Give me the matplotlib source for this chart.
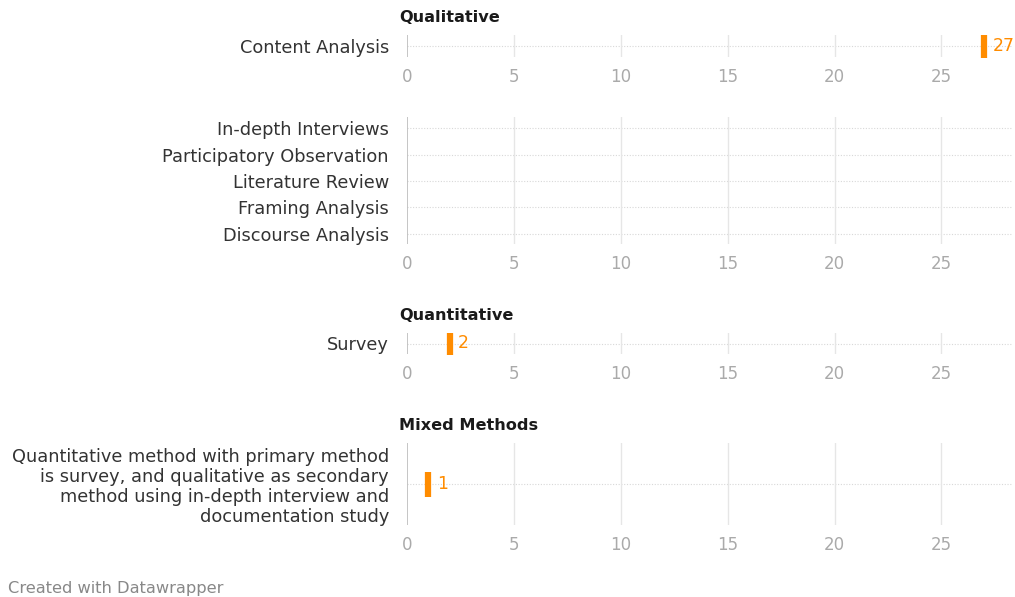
import matplotlib.pyplot as plt

plt.rcParams['font.family'] = ['DejaVu Sans']

# data per group
groups = ["Qualitative", "", "Quantitative", "Mixed Methods"]
labels = [
    ["Content Analysis"],
    ["In-depth Interviews", "Participatory Observation", "Literature Review",
     "Framing Analysis", "Discourse Analysis"],
    ["Survey"],
    ["Quantitative method with primary method\nis survey, and qualitative as secondary\n"
     "method using in-depth interview and\ndocumentation study"],
]
values = [
    [27],
    [None, None, None, None, None],
    [2],
    [1],
]
ticks = [0, 5, 10, 15, 20, 25]

W, H = 1015, 597
# panel boxes in pixels: top, bottom, ylim pad (top, bottom)
boxes = [(35, 57, 0.5, 0.5), (117, 244, 0.42, 0.38), (333, 354, 0.5, 0.5), (443, 525, 0.5, 0.5)]
title_y = [18, None, 315, 426]
x0, x1 = 407, 1012
orange = '#ff8c00'

fig = plt.figure(figsize=(W / 100, H / 100), dpi=100)

for gi, (top, bot, pt, pb) in enumerate(boxes):
    ax = fig.add_axes([x0 / W, 1 - bot / H, (x1 - x0) / W, (bot - top) / H])
    n = len(labels[gi])
    ax.set_xlim(0, 28.3)
    ax.set_ylim(n - 1 + pb, -pt)
    for s in ax.spines.values():
        s.set_visible(False)
    for t in ticks:
        ax.axvline(t, color='#bbbbbb' if t == 0 else '#e6e6e6', lw=1.2 if t == 0 else 1, zorder=1)
    for i in range(n):
        ax.axhline(i, color='#d8d8d8', lw=0.8, ls=(0, (1, 1.5)), zorder=0)
    ax.set_yticks(range(n))
    ax.set_yticklabels(labels[gi], fontsize=12.8, color='#333333', linespacing=1.16)
    ax.tick_params(axis='y', length=0, pad=13)
    ax.set_xticks(ticks)
    ax.set_xticklabels([str(t) for t in ticks], fontsize=12, color='#aaaaaa')
    ax.tick_params(axis='x', length=0, pad=8)
    for i, v in enumerate(values[gi]):
        if v is None:
            continue
        ax.plot(v, i, marker='|', ms=18, mew=4.5, color=orange, zorder=3)
        ax.annotate(str(v), (v, i), xytext=(6, 0), textcoords='offset points',
                    ha='left', va='center', fontsize=12.5, color=orange)
    if title_y[gi] is not None:
        fig.text(399 / W, 1 - title_y[gi] / H, groups[gi], fontsize=11.6, fontweight='bold',
                 color='#1a1a1a', ha='left', va='center')

fig.text(8 / W, 1 - 588 / H, "Created with Datawrapper", fontsize=11.7, color='#888888',
         ha='left', va='center')

fig.savefig('out.png', dpi=100)
